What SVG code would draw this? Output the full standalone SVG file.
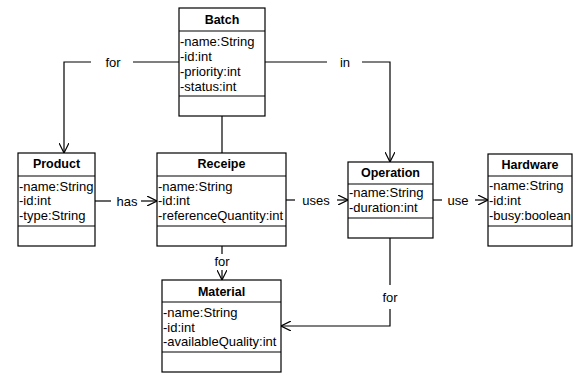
<svg xmlns="http://www.w3.org/2000/svg" width="573" height="383" viewBox="0 0 573 383">
<style>
.box{fill:#fff;stroke:#000;stroke-width:1.2}
.sep{stroke:#000;stroke-width:1.2}
.t{font-family:"Liberation Sans",Arial,sans-serif;font-size:13px;fill:#000}
.b{font-family:"Liberation Sans",Arial,sans-serif;font-size:12.5px;font-weight:bold;fill:#000;text-anchor:middle}
.l{font-family:"Liberation Sans",Arial,sans-serif;font-size:13px;fill:#000;text-anchor:middle}
.c{fill:none;stroke:#000;stroke-width:1.2}
</style>
<defs>
<marker id="arr" viewBox="0 0 10 10" refX="10" refY="5" markerWidth="10" markerHeight="10" markerUnits="userSpaceOnUse" orient="auto">
<path d="M0,0 L10,5 L0,10" fill="none" stroke="#000" stroke-width="1.2"/>
</marker>
</defs>
<rect width="573" height="383" fill="#fff"/>
<g id="connectors">
<path class="c" d="M179,62 H133"/>
<path class="c" d="M91,62 H64 V153" marker-end="url(#arr)"/>
<text class="l" x="113" y="66.5">for</text>
<path class="c" d="M265,62 H327"/>
<path class="c" d="M362,62 H390 V162" marker-end="url(#arr)"/>
<text class="l" x="345" y="66.5">in</text>
<path class="c" d="M222,116 V153"/>
<path class="c" d="M95,201 H111"/>
<text class="l" x="127" y="205.5">has</text>
<path class="c" d="M141,201 H157" marker-end="url(#arr)"/>
<path class="c" d="M286,200 H295"/>
<text class="l" x="316" y="204.5">uses</text>
<path class="c" d="M337,200 H348" marker-end="url(#arr)"/>
<path class="c" d="M433,200 H442"/>
<text class="l" x="458" y="204.5">use</text>
<path class="c" d="M475,200 H488" marker-end="url(#arr)"/>
<path class="c" d="M222,246 V254"/>
<text class="l" x="222" y="266">for</text>
<path class="c" d="M222,270 V280" marker-end="url(#arr)"/>
<path class="c" d="M390,238 V285"/>
<text class="l" x="390" y="301.5">for</text>
<path class="c" d="M390,309 V326 H281" marker-end="url(#arr)"/>
</g>
<g id="batch">
<rect class="box" x="179" y="8" width="86" height="108"/>
<line class="sep" x1="179" y1="31" x2="265" y2="31"/>
<line class="sep" x1="179" y1="96" x2="265" y2="96"/>
<text class="b" x="222" y="24">Batch</text>
<text class="t" x="180" y="46">-name:String</text>
<text class="t" x="180" y="61">-id:int</text>
<text class="t" x="180" y="76">-priority:int</text>
<text class="t" x="180" y="91">-status:int</text>
</g>
<g id="product">
<rect class="box" x="18" y="153" width="77" height="93"/>
<line class="sep" x1="18" y1="176" x2="95" y2="176"/>
<line class="sep" x1="18" y1="226" x2="95" y2="226"/>
<text class="b" x="56.5" y="168">Product</text>
<text class="t" x="19" y="190.5">-name:String</text>
<text class="t" x="19" y="205">-id:int</text>
<text class="t" x="19" y="219.5">-type:String</text>
</g>
<g id="receipe">
<rect class="box" x="157" y="153" width="129" height="93"/>
<line class="sep" x1="157" y1="176" x2="286" y2="176"/>
<line class="sep" x1="157" y1="226" x2="286" y2="226"/>
<text class="b" x="221.5" y="168">Receipe</text>
<text class="t" x="158" y="190.5">-name:String</text>
<text class="t" x="158" y="205">-id:int</text>
<text class="t" x="158" y="219.5">-referenceQuantity:int</text>
</g>
<g id="operation">
<rect class="box" x="348" y="162" width="85" height="76"/>
<line class="sep" x1="348" y1="184" x2="433" y2="184"/>
<line class="sep" x1="348" y1="218" x2="433" y2="218"/>
<text class="b" x="390.5" y="177">Operation</text>
<text class="t" x="349" y="197">-name:String</text>
<text class="t" x="349" y="212">-duration:int</text>
</g>
<g id="hardware">
<rect class="box" x="488" y="154" width="84" height="92"/>
<line class="sep" x1="488" y1="176" x2="572" y2="176"/>
<line class="sep" x1="488" y1="226" x2="572" y2="226"/>
<text class="b" x="530" y="168.5">Hardware</text>
<text class="t" x="489" y="189.5">-name:String</text>
<text class="t" x="489" y="205">-id:int</text>
<text class="t" x="489" y="219.5">-busy:boolean</text>
</g>
<g id="material">
<rect class="box" x="162" y="280" width="119" height="92"/>
<line class="sep" x1="162" y1="302" x2="281" y2="302"/>
<line class="sep" x1="162" y1="352" x2="281" y2="352"/>
<text class="b" x="221.5" y="296">Material</text>
<text class="t" x="163" y="316.5">-name:String</text>
<text class="t" x="163" y="331.5">-id:int</text>
<text class="t" x="163" y="346">-availableQuality:int</text>
</g>
</svg>
